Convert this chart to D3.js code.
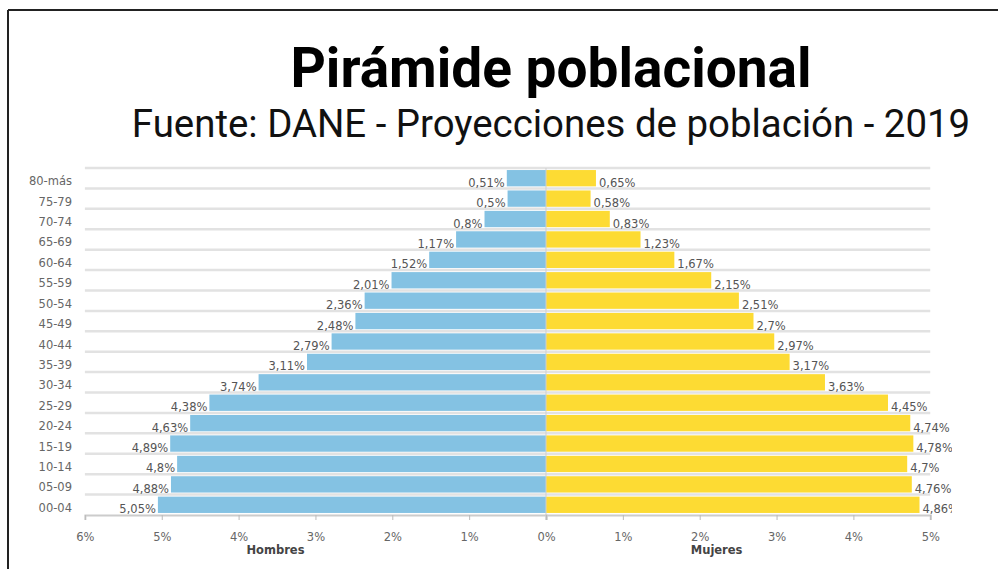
<!DOCTYPE html>
<html>
<head>
<meta charset="utf-8">
<script src="https://cdn.jsdelivr.net/npm/d3@7"></script>
<style>
  html, body { margin: 0; padding: 0; background: #fff; }
  svg { display: block; }
</style>
</head>
<body>
<svg id="chart" width="998" height="569"></svg>
<script>
const ageGroups = ["80-más","75-79","70-74","65-69","60-64","55-59","50-54","45-49","40-44","35-39","30-34","25-29","20-24","15-19","10-14","05-09","00-04"];
const hombres = [0.51,0.5,0.8,1.17,1.52,2.01,2.36,2.48,2.79,3.11,3.74,4.38,4.63,4.89,4.8,4.88,5.05];
const mujeres = [0.65,0.58,0.83,1.23,1.67,2.15,2.51,2.7,2.97,3.17,3.63,4.45,4.74,4.78,4.7,4.76,4.86];
const leftTicks = [6,5,4,3,2,1];
const rightTicks = [0,1,2,3,4,5];
const titleText = "Pirámide poblacional";
const subtitleText = "Fuente: DANE - Proyecciones de población - 2019";

const svg = d3.select("#chart");
const W = 998, H = 569;

// frame (top and left edges of the screenshot border)
svg.append("line").attr("x1", 8).attr("x2", W).attr("y1", 10).attr("y2", 10)
  .attr("stroke", "#222").attr("stroke-width", 2);
svg.append("line").attr("x1", 8).attr("x2", 8).attr("y1", 10).attr("y2", H)
  .attr("stroke", "#222").attr("stroke-width", 2);

svg.append("text").attr("x", 551).attr("y", 87)
  .attr("text-anchor", "middle")
  .attr("font-family", "Roboto, 'Liberation Sans', sans-serif")
  .attr("font-weight", "bold").attr("font-size", 55)
  .attr("fill", "#000").text(titleText);
svg.append("text").attr("x", 551).attr("y", 137)
  .attr("text-anchor", "middle")
  .attr("font-family", "Roboto, 'Liberation Sans', sans-serif")
  .attr("font-size", 38.4)
  .attr("fill", "#111").text(subtitleText);

const zeroX = 546, pxPerPct = 76.85;
const xL = d3.scaleLinear().domain([0, 6]).range([zeroX, zeroX - 6 * pxPerPct]);
const xR = d3.scaleLinear().domain([0, 5]).range([zeroX, zeroX + 5 * pxPerPct]);
const y = d3.scaleBand().domain(ageGroups).range([168, 515]).paddingInner(0.2).paddingOuter(0.1);

const font = "'DejaVu Sans', Verdana, sans-serif";
const fs = 11.5;

// gridlines at band boundaries
const step = y.step();
const boundaries = d3.range(ageGroups.length).map(i => y.range()[0] + i * step);
svg.append("g").selectAll("line").data(boundaries).join("line")
  .attr("x1", xL(6)).attr("x2", xR(5))
  .attr("y1", d => d).attr("y2", d => d)
  .attr("stroke", "#e2e2e2").attr("stroke-width", 2.5);

const clip = svg.append("clipPath").attr("id", "clip");
clip.append("rect").attr("x", 0).attr("y", 0).attr("width", 952).attr("height", H);

const g = svg.append("g").attr("clip-path", "url(#clip)");

// bars
g.append("g").selectAll("rect").data(ageGroups).join("rect")
  .attr("x", (d, i) => xL(hombres[i]))
  .attr("width", (d, i) => xL(0) - xL(hombres[i]))
  .attr("y", d => y(d)).attr("height", y.bandwidth())
  .attr("fill", "#84c2e3");
g.append("g").selectAll("rect").data(ageGroups).join("rect")
  .attr("x", xR(0))
  .attr("width", (d, i) => xR(mujeres[i]) - xR(0))
  .attr("y", d => y(d)).attr("height", y.bandwidth())
  .attr("fill", "#fddb33");

// zero line
svg.append("line").attr("x1", zeroX).attr("x2", zeroX)
  .attr("y1", y.range()[0]).attr("y2", y.range()[1])
  .attr("stroke", "#cfcfcf").attr("stroke-width", 1);

const fmt = v => String(v).replace(".", ",") + "%";

g.append("g").selectAll("text").data(ageGroups).join("text")
  .attr("x", (d, i) => xL(hombres[i]) - 2)
  .attr("y", d => y(d) + y.bandwidth() / 2 + 8.5)
  .attr("text-anchor", "end")
  .attr("font-family", font).attr("font-size", fs).attr("fill", "#555")
  .text((d, i) => fmt(hombres[i]));
g.append("g").selectAll("text").data(ageGroups).join("text")
  .attr("x", (d, i) => xR(mujeres[i]) + 3)
  .attr("y", d => y(d) + y.bandwidth() / 2 + 8.5)
  .attr("text-anchor", "start")
  .attr("font-family", font).attr("font-size", fs).attr("fill", "#555")
  .text((d, i) => fmt(mujeres[i]));

// age labels
svg.append("g").selectAll("text").data(ageGroups).join("text")
  .attr("x", 72)
  .attr("y", d => y(d) + y.bandwidth() / 2 + 7)
  .attr("text-anchor", "end")
  .attr("font-family", font).attr("font-size", fs).attr("fill", "#666")
  .text(d => d);

// x axes
const axisY = y.range()[1];
const axL = d3.axisBottom(xL).tickValues(leftTicks).tickSize(5).tickPadding(13).tickFormat(d => d + "%");
const axR = d3.axisBottom(xR).tickValues(rightTicks).tickSize(5).tickPadding(13).tickFormat(d => d + "%");
[axL, axR].forEach(ax => {
  const a = svg.append("g").attr("transform", `translate(0,${axisY})`).call(ax);
  a.select(".domain").attr("stroke", "#ccc").attr("stroke-width", 2);
  a.selectAll(".tick line").attr("stroke", "#bbb");
  a.selectAll(".tick text").attr("font-family", font).attr("font-size", fs).attr("fill", "#666");
});

svg.append("text").attr("x", xL(3.52)).attr("y", 554)
  .attr("text-anchor", "middle").attr("font-family", font).attr("font-weight", "bold")
  .attr("font-size", fs).attr("fill", "#444").text("Hombres");
svg.append("text").attr("x", xR(2.22)).attr("y", 554)
  .attr("text-anchor", "middle").attr("font-family", font).attr("font-weight", "bold")
  .attr("font-size", fs).attr("fill", "#444").text("Mujeres");
</script>
</body>
</html>
